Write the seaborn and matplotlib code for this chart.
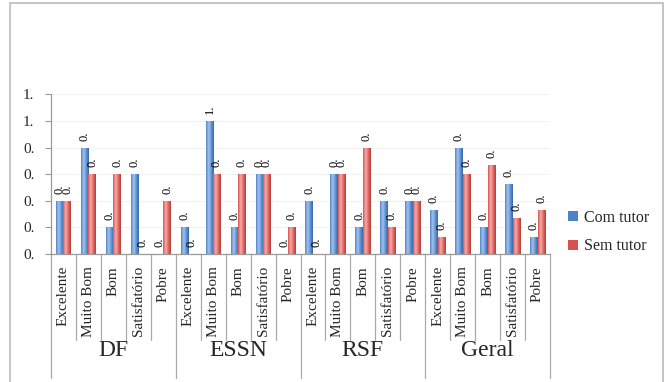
import numpy as np
import pandas as pd
import matplotlib
matplotlib.use("Agg")
import matplotlib.pyplot as plt
import seaborn as sns
from matplotlib.colors import LinearSegmentedColormap
from matplotlib.patches import Patch, Rectangle
from matplotlib.lines import Line2D

# ---- data ----
groups = ["DF", "ESSN", "RSF", "Geral"]
ratings = ["Excelente", "Muito Bom", "Bom", "Satisfatório", "Pobre"]
series = ["Com tutor", "Sem tutor"]

com_tutor = {
    "DF":    [0.4, 0.8, 0.2, 0.6, 0.0],
    "ESSN":  [0.2, 1.0, 0.2, 0.6, 0.0],
    "RSF":   [0.4, 0.6, 0.2, 0.4, 0.4],
    "Geral": [0.33, 0.8, 0.2, 0.53, 0.13],
}
sem_tutor = {
    "DF":    [0.4, 0.6, 0.6, 0.0, 0.4],
    "ESSN":  [0.0, 0.6, 0.6, 0.6, 0.2],
    "RSF":   [0.0, 0.6, 0.8, 0.2, 0.4],
    "Geral": [0.13, 0.6, 0.67, 0.27, 0.33],
}
y_ticks = [0.0, 0.2, 0.4, 0.6, 0.8, 1.0, 1.2]

rows = []
for g in groups:
    for i, r in enumerate(ratings):
        key = f"{g}|{r}"
        rows.append({"cat": key, "serie": series[0], "valor": com_tutor[g][i]})
        rows.append({"cat": key, "serie": series[1], "valor": sem_tutor[g][i]})
df = pd.DataFrame(rows)
order = [f"{g}|{r}" for g in groups for r in ratings]


def short(v):
    # labels are shown clipped to two characters ("0.", "1.")
    return f"{v:.1f}"[:2]


# ---- figure ----
sns.set_style("white")
plt.rcParams["font.family"] = ["Liberation Serif", "DejaVu Serif"]

W, H = 669, 382
fig = plt.figure(figsize=(W / 100, H / 100), dpi=100)
ax = fig.add_axes([51 / W, 1 - 254 / H, (550 - 51) / W, (254 - 94.5) / H])

blue, red = "#4F81C9", "#D9514E"
sns.barplot(data=df, x="cat", y="valor", hue="serie", order=order,
            hue_order=series, palette=[blue, red], width=0.6,
            saturation=1, legend=False, ax=ax, errorbar=None)

# gradient fill on bars
cmaps = {
    blue: LinearSegmentedColormap.from_list("b", ["#4F80C6", "#A4C6EE", "#6394D6", "#3465A6"]),
    red: LinearSegmentedColormap.from_list("r", ["#D44F4C", "#F6B0AE", "#E46A67", "#B23A36"]),
}
grad = np.linspace(0, 1, 64).reshape(1, -1)
bars = list(ax.patches)
n = len(order)
for k, p in enumerate(bars):
    h = p.get_height()
    if h <= 0:
        continue
    cm = cmaps[blue] if k < n else cmaps[red]
    x0 = p.get_x()
    im = ax.imshow(grad, cmap=cm, aspect="auto", extent=[x0, x0 + p.get_width(), 0, h],
                   zorder=p.get_zorder() + 0.1, interpolation="bicubic")
    im.set_clip_path(p)

# value labels above bars
for k, p in enumerate(bars):
    v = p.get_height()
    ax.annotate(short(v), (p.get_x() + p.get_width() / 2, v), xytext=(0, 5),
                textcoords="offset points", rotation=90, ha="center", va="bottom",
                fontsize=9, color="black")

ax.set_xlim(-0.5, n - 0.5)
ax.set_ylim(0, 1.2)
ax.set_yticks(y_ticks)
ax.set_yticklabels([short(t) for t in y_ticks], fontsize=11)
ax.set_xticks([])
ax.set_xlabel("")
ax.set_ylabel("")
ax.yaxis.grid(True, color="#F2F2F2", lw=0.8)
ax.set_axisbelow(True)
ax.tick_params(axis="y", length=4, color="#999999", pad=8, left=True)
for s in ["top", "right"]:
    ax.spines[s].set_visible(False)
for s in ["left", "bottom"]:
    ax.spines[s].set_color("#999999")
    ax.spines[s].set_linewidth(0.9)

# category table below the axis
tr = ax.get_xaxis_transform()
for b in range(n + 1):
    xb = b - 0.5
    depth = -0.78 if b % len(ratings) == 0 else -0.54
    ax.add_line(Line2D([xb, xb], [0, depth], transform=tr, color="#AAAAAA",
                       lw=0.9, clip_on=False))
for i, key in enumerate(order):
    ax.text(i, -0.075, key.split("|")[1], transform=tr, rotation=90,
            ha="center", va="top", fontsize=11)
for gi, g in enumerate(groups):
    ax.text(gi * len(ratings) + 2, -0.605, g, transform=tr, ha="center",
            va="center", fontsize=17)

# legend
handles = [Patch(facecolor=blue, edgecolor="none"), Patch(facecolor=red, edgecolor="none")]
fig.legend(handles, series, loc="center left", bbox_to_anchor=(568 / W, 1 - 232 / H),
           frameon=False, fontsize=11.5, handlelength=0.6, handleheight=0.6,
           handletextpad=0.4, labelspacing=0.8, borderpad=0, borderaxespad=0)

# chart border
fig.patches.append(Rectangle((10 / W, -0.05), (663 - 10) / W, 0.05 + 1 - 2.5 / H,
                             transform=fig.transFigure, fill=False,
                             edgecolor="#BBBBBB", lw=1.2))

fig.savefig("out.png", dpi=100)
